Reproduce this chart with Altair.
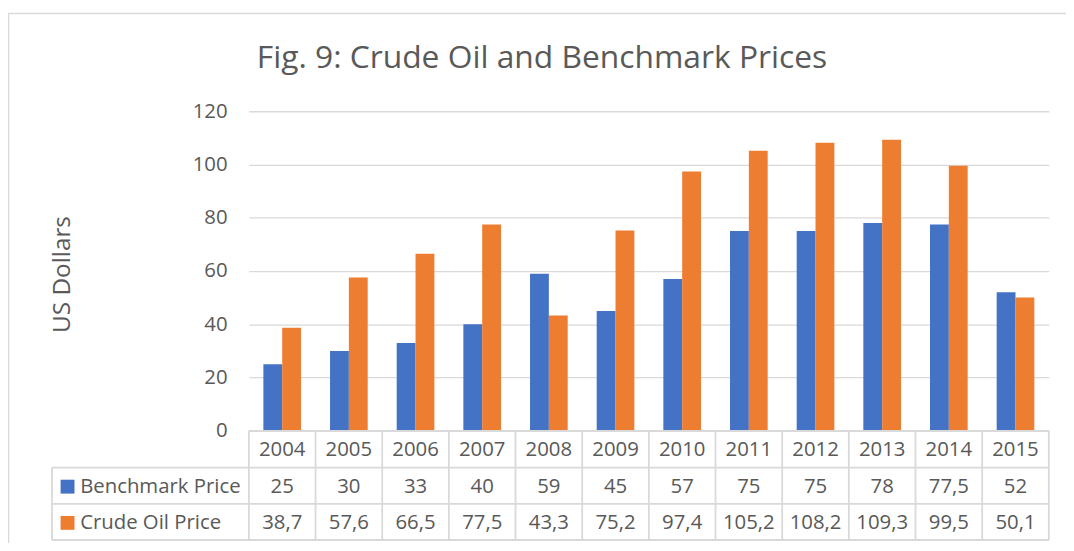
import altair as alt
import pandas as pd

years = ["2004", "2005", "2006", "2007", "2008", "2009", "2010", "2011", "2012", "2013", "2014", "2015"]
benchmark = [25, 30, 33, 40, 59, 45, 57, 75, 75, 78, 77.5, 52]
crude = [38.7, 57.6, 66.5, 77.5, 43.3, 75.2, 97.4, 105.2, 108.2, 109.3, 99.5, 50.1]
series_names = ["Benchmark Price", "Crude Oil Price"]
colors = ["#4472C4", "#ED7D31"]
y_ticks = [0, 20, 40, 60, 80, 100, 120]
title_text = "Fig. 9: Crude Oil and Benchmark Prices"

FONT = "Open Sans"
TXT = "#595959"
LINE = "#D9D9D9"

W, H = 806, 322
PAD_L, PAD_T = 242.7, 102
TOTAL_W, TOTAL_H = 1066, 535
R1, R2, R3 = 37, 73.5, 110  # table row boundaries below the plot

def fmt(v):
    return ("%g" % v).replace(".", ",")

rows = []
for name, vals in zip(series_names, [benchmark, crude]):
    for y, v in zip(years, vals):
        rows.append({"year": y, "series": name, "value": v, "label": fmt(v)})
df = pd.DataFrame(rows)
yr = pd.DataFrame({"year": years})
sdf = pd.DataFrame({"series": series_names})
one = pd.DataFrame({"t": [title_text]})

xsc = alt.Scale(domain=years, paddingInner=0, paddingOuter=0)
csc = alt.Scale(domain=series_names, range=colors)
X = alt.X("year:N", scale=xsc, sort=years, axis=None)

bars = alt.Chart(df).mark_bar().encode(
    x=X,
    xOffset=alt.XOffset("series:N", scale=alt.Scale(domain=series_names, paddingOuter=0.77, paddingInner=0)),
    y=alt.Y("value:Q", scale=alt.Scale(domain=[0, 120], nice=False),
            axis=alt.Axis(values=y_ticks, title="US Dollars", grid=True, gridColor=LINE, gridWidth=1.3,
                          domain=False, ticks=False, labelPadding=22, labelFontSize=20.5,
                          labelColor=TXT, labelFont=FONT, titleFont=FONT, titleFontSize=24.5,
                          titleColor=TXT, titleFontWeight="normal", titleX=-188, titleY=164,
                          titleAngle=-90, titleAlign="center", titleBaseline="middle")),
    color=alt.Color("series:N", scale=csc, legend=None),
)

RULE = dict(color=LINE, strokeWidth=1.8)
vlines = alt.Chart(yr).mark_rule(**RULE).encode(
    x=alt.X("year:N", scale=xsc, sort=years, bandPosition=0, axis=None),
    y=alt.value(H), y2=alt.value(H + R3),
)
edges = pd.DataFrame({"k": ["a"]})
right_edge = alt.Chart(edges).mark_rule(**RULE).encode(
    x=alt.value(W), y=alt.value(H), y2=alt.value(H + R3))
left_edge = alt.Chart(edges).mark_rule(**RULE).encode(
    x=alt.value(-198.4), y=alt.value(H + R1), y2=alt.value(H + R3))
h0 = alt.Chart(edges).mark_rule(**RULE).encode(x=alt.value(0), x2=alt.value(W), y=alt.value(H))
h1 = alt.Chart(edges).mark_rule(**RULE).encode(x=alt.value(-198.4), x2=alt.value(W), y=alt.value(H + R1))
h2 = alt.Chart(edges).mark_rule(**RULE).encode(x=alt.value(-198.4), x2=alt.value(W), y=alt.value(H + R2))
h3 = alt.Chart(edges).mark_rule(**RULE).encode(x=alt.value(-198.4), x2=alt.value(W), y=alt.value(H + R3))

frame = alt.Chart(edges).mark_rect(fill=None, stroke=LINE, strokeWidth=1.5).encode(
    x=alt.value(-PAD_L + 0.5), x2=alt.value(W + 60), y=alt.value(-PAD_T + 3.5), y2=alt.value(H + 200))

title = alt.Chart(one).mark_text(font=FONT, fontSize=32, color=TXT, align="center",
                                 baseline="alphabetic").encode(
    x=alt.value(295.3), y=alt.value(-44), text="t:N")

TS = 20.5
tkw = dict(font=FONT, fontSize=TS, color=TXT, align="center", baseline="middle")
c1 = H + R1 / 2 + 1
c2 = H + (R1 + R2) / 2 + 1
c3 = H + (R2 + R3) / 2 + 1
hdr = alt.Chart(yr).mark_text(**tkw).encode(x=X, y=alt.value(c1), text="year:N")
row1 = alt.Chart(df).transform_filter(alt.datum.series == series_names[0]).mark_text(**tkw).encode(
    x=X, y=alt.value(c2), text="label:N")
row2 = alt.Chart(df).transform_filter(alt.datum.series == series_names[1]).mark_text(**tkw).encode(
    x=X, y=alt.value(c3), text="label:N")

lkw = dict(font=FONT, fontSize=TS, color=TXT, align="left", baseline="middle")
lab1 = alt.Chart(sdf).transform_filter(alt.datum.series == series_names[0]).mark_text(**lkw).encode(
    x=alt.value(-170), y=alt.value(c2), text="series:N")
lab2 = alt.Chart(sdf).transform_filter(alt.datum.series == series_names[1]).mark_text(**lkw).encode(
    x=alt.value(-170), y=alt.value(c3), text="series:N")
sq1 = alt.Chart(sdf).transform_filter(alt.datum.series == series_names[0]).mark_square(size=196, opacity=1).encode(
    x=alt.value(-182.7), y=alt.value(c2), color=alt.Color("series:N", scale=csc, legend=None))
sq2 = alt.Chart(sdf).transform_filter(alt.datum.series == series_names[1]).mark_square(size=196, opacity=1).encode(
    x=alt.value(-182.7), y=alt.value(c3), color=alt.Color("series:N", scale=csc, legend=None))

chart = alt.layer(
    frame, bars, vlines, right_edge, left_edge, h0, h1, h2, h3,
    title, hdr, row1, row2, lab1, lab2, sq1, sq2,
).properties(
    width=W, height=H,
    autosize=alt.AutoSizeParams(type="none"),
    padding={"left": PAD_L, "top": PAD_T, "right": TOTAL_W - PAD_L - W, "bottom": TOTAL_H - PAD_T - H},
).configure_view(stroke=None)

chart.save("out.html", embed_options={"renderer": "svg", "actions": False})
